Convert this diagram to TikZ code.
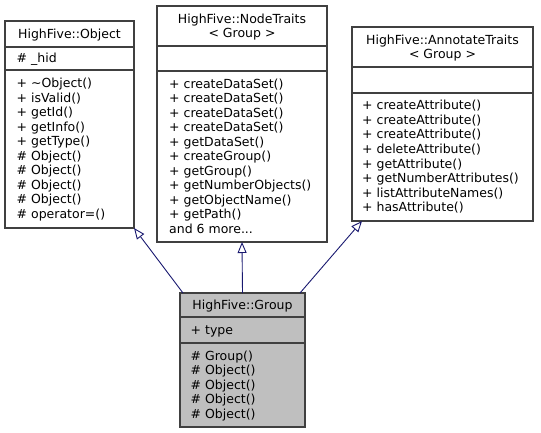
\documentclass[tikz,border=0pt]{standalone}
\usepackage{fontspec}
\setmainfont{DejaVu Sans}
\usetikzlibrary{arrows.meta}
\definecolor{edgeblue}{RGB}{25,25,112}
\definecolor{boxline}{RGB}{64,64,64}
\definecolor{hlfill}{RGB}{191,191,191}
\begin{document}
\begin{tikzpicture}[x=1pt,y=-1pt,
  umlbox/.style={draw=boxline, line width=1.1pt, inner sep=0pt, outer sep=0pt, anchor=north west},
  sepline/.style={draw=boxline, line width=1.1pt},
  member/.style={anchor=base west, inner sep=0pt, font=\fontsize{12.5}{14.5}\selectfont},
  title/.style={anchor=base, inner sep=0pt, align=center, font=\fontsize{12.5}{14.5}\selectfont},
  inherit/.style={draw=edgeblue, line width=0.9pt, -{Triangle[open, length=11pt, width=9pt, fill=white]}}]
\useasboundingbox (0,0) rectangle (541,433);

% ---------- HighFive::Object ----------
\node[umlbox, minimum width=129pt, minimum height=207pt] (obj) at (5,21) {};
\draw[sepline] (obj.west |- 0,47) -- (obj.east |- 0,47);
\draw[sepline] (obj.west |- 0,70) -- (obj.east |- 0,70);
\node[title] (objt) at (69.5,38.4) {HighFive::Object};
\node[member] (obja) at (16.5,62.9) {\# \_hid};
\foreach \txt [count=\i] in {+ \textasciitilde Object(), + isValid(), + getId(), + getInfo(), + getType(), \# Object(), \# Object(), \# Object(), \# Object(), \# operator=()}
  \node[member] (objm\i) at (16.5,{88+14.5*(\i-1)}) {\txt};

% ---------- HighFive::NodeTraits< Group > ----------
\node[umlbox, minimum width=170pt, minimum height=236pt] (nt) at (157,6) {};
\draw[sepline] (nt.west |- 0,46) -- (nt.east |- 0,46);
\draw[sepline] (nt.west |- 0,71) -- (nt.east |- 0,71);
\node[title] (ntt1) at (242,23.1) {HighFive::NodeTraits};
\node[title] (ntt2) at (242,37.6) {< Group >};
\foreach \txt [count=\i] in {+ createDataSet(), + createDataSet(), + createDataSet(), + createDataSet(), + getDataSet(), + createGroup(), + getGroup(), + getNumberObjects(), + getObjectName(), + getPath()}
  \node[member] (ntm\i) at (169,{88.4+14.5*(\i-1)}) {\txt};
\node[member] (ntmore) at (169,233.4) {and 6 more...};

% ---------- HighFive::AnnotateTraits< Group > ----------
\node[umlbox, minimum width=181pt, minimum height=194pt] (at) at (352,27) {};
\draw[sepline] (at.west |- 0,67) -- (at.east |- 0,67);
\draw[sepline] (at.west |- 0,93) -- (at.east |- 0,93);
\node[title] (att1) at (442.5,44.1) {HighFive::AnnotateTraits};
\node[title] (att2) at (442.5,58.6) {< Group >};
\foreach \txt [count=\i] in {+ createAttribute(), + createAttribute(), + createAttribute(), + deleteAttribute(), + getAttribute(), + getNumberAttributes(), + listAttributeNames(), + hasAttribute()}
  \node[member] (atm\i) at (362,{110+14.5*(\i-1)}) {\txt};

% ---------- HighFive::Group ----------
\node[umlbox, fill=hlfill, minimum width=125pt, minimum height=134pt] (grp) at (180,293) {};
\draw[sepline] (grp.west |- 0,317) -- (grp.east |- 0,317);
\draw[sepline] (grp.west |- 0,343) -- (grp.east |- 0,343);
\node[title] (grpt) at (242.5,309.4) {HighFive::Group};
\node[member] (grpa) at (190.5,334.4) {+ type};
\foreach \txt [count=\i] in {\# Group(), \# Object(), \# Object(), \# Object(), \# Object()}
  \node[member] (grpm\i) at (190.5,{360.4+14.5*(\i-1)}) {\txt};

% ---------- inheritance ----------
\draw[inherit] ([xshift=3pt]grp.north west) -- (obj.south east);
\draw[inherit] (grp.north) -- (nt.south);
\draw[inherit] ([xshift=-5pt]grp.north east) -- ([xshift=10pt]at.south west);
\end{tikzpicture}
\end{document}
